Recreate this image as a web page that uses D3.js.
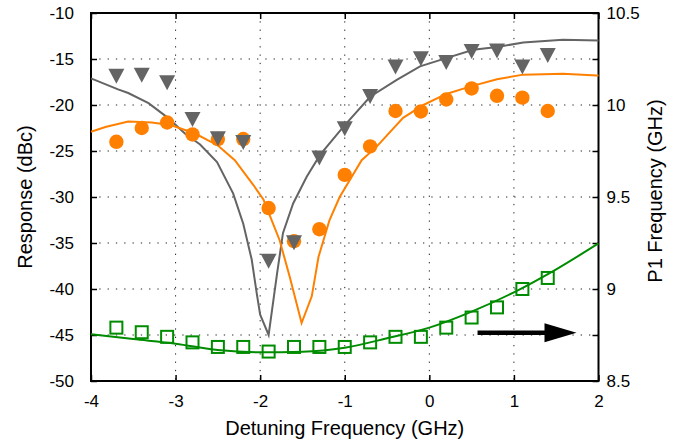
<!DOCTYPE html>
<html>
<head>
<meta charset="utf-8">
<script src="https://cdn.jsdelivr.net/npm/d3@7"></script>
<style>
  body { margin: 0; background: #fff; }
  svg { display: block; font-family: "Liberation Sans", Arial, sans-serif; }
</style>
</head>
<body>
<div id="chart"></div>
<script>
// measured points (detuning, GHz)
var detuning = [-3.7, -3.4, -3.1, -2.8, -2.5, -2.2, -1.9, -1.6, -1.3, -1.0, -0.7, -0.4, -0.1, 0.2, 0.5, 0.8, 1.1, 1.4];
var grayMeas = [-16.6, -16.5, -17.3, -21.3, -23.4, -23.8, -36.7, -34.7, -25.5, -22.3, -18.8, -15.6, -14.7, -15.1, -13.9, -13.85, -15.6, -14.35];
var orangeMeas = [-24.0, -22.5, -21.9, -23.2, -23.7, -23.7, -31.2, -34.8, -33.5, -27.6, -24.5, -20.65, -20.7, -19.4, -18.2, -19.0, -19.2, -20.65];
var p1Meas = [8.79, 8.765, 8.74, 8.71, 8.685, 8.685, 8.66, 8.685, 8.685, 8.685, 8.71, 8.74, 8.74, 8.79, 8.845, 8.9, 9.0, 9.06];

// simulated curves
var graySimX = [-4, -3.68, -3.56, -3.32, -3.09, -2.89, -2.71, -2.51, -2.32, -2.2, -2.1, -2.04, -2.0, -1.9, -1.8, -1.73, -1.61, -1.45, -1.29, -1.02, -0.7, -0.39, -0.11, 0.2, 0.52, 0.8, 1.11, 1.58, 2];
var graySimY = [-17.1, -18.3, -18.7, -19.8, -21.4, -23.1, -24.3, -26.2, -29.6, -32.9, -36.8, -40.5, -42.8, -45.0, -38.3, -33.9, -30.7, -27.8, -25.4, -22.4, -19.1, -17.3, -15.8, -14.9, -14.0, -13.7, -13.2, -12.9, -13.0];
var orangeSimX = [-4, -3.83, -3.56, -3.28, -3.05, -2.77, -2.5, -2.3, -2.08, -1.96, -1.77, -1.65, -1.51, -1.39, -1.31, -1.18, -1.06, -0.8, -0.62, -0.31, -0.07, 0.2, 0.48, 0.8, 1.11, 1.58, 1.98, 2];
var orangeSimY = [-22.9, -22.4, -21.8, -21.9, -22.2, -23.1, -24.4, -26.0, -28.7, -30.3, -34.7, -38.7, -43.7, -40.8, -36.5, -32.5, -30.0, -26.0, -24.5, -21.4, -20.0, -18.8, -18.0, -17.2, -16.7, -16.6, -16.8, -16.8];
var p1SimX = [-4, -3.5, -3, -2.5, -2, -1.5, -1, -0.5, 0, 0.5, 1, 1.5, 2];
var p1SimY = [8.754, 8.728, 8.703, 8.668, 8.656, 8.659, 8.681, 8.732, 8.79, 8.877, 8.982, 9.107, 9.248];

var xTicks = [-4, -3, -2, -1, 0, 1, 2];
var yTicks = [-50, -45, -40, -35, -30, -25, -20, -15, -10];
var y2Ticks = [8.5, 9, 9.5, 10, 10.5];
var y2Minor = [8.75, 9.25, 9.75, 10.25];

var arrowX = [0.57, 1.74];
var arrowY = -44.75;

var width = 681, height = 445;
var margin = {top: 13, right: 82.5, bottom: 64, left: 91};
var innerW = width - margin.left - margin.right;
var innerH = height - margin.top - margin.bottom;

var colGray = "#646464", colOrange = "#ff8000", colGreen = "#008c00";

var svg = d3.select("#chart").append("svg")
    .attr("width", width)
    .attr("height", height);

var g = svg.append("g")
    .attr("transform", "translate(" + margin.left + "," + margin.top + ")");

var x = d3.scaleLinear().domain([-4, 2]).range([0, innerW]);
var y = d3.scaleLinear().domain([-50, -10]).range([innerH, 0]);
var y2 = d3.scaleLinear().domain([8.5, 10.5]).range([innerH, 0]);

// plain hyphen labels like the original
var plain = d => String(d);

// dotted grid
g.selectAll(".gx").data(xTicks.slice(1, -1)).enter().append("line")
    .attr("x1", d => x(d)).attr("x2", d => x(d))
    .attr("y1", 0).attr("y2", innerH)
    .attr("stroke", "#222").attr("stroke-width", 1)
    .attr("stroke-dasharray", "1.3,7");
g.selectAll(".gy").data(yTicks.slice(1, -1)).enter().append("line")
    .attr("x1", 0).attr("x2", innerW)
    .attr("y1", d => y(d)).attr("y2", d => y(d))
    .attr("stroke", "#222").attr("stroke-width", 1)
    .attr("stroke-dasharray", "1.3,7");

// axes
var tickFont = "17px";
var xAxis = g.append("g").attr("transform", "translate(0," + innerH + ")")
    .call(d3.axisBottom(x).tickValues(xTicks).tickSizeInner(-6).tickSizeOuter(0).tickPadding(14).tickFormat(plain));
var xTop = g.append("g")
    .call(d3.axisTop(x).tickValues(xTicks).tickSizeInner(-6).tickSizeOuter(0).tickFormat(""));
var yAxis = g.append("g")
    .call(d3.axisLeft(y).tickValues(yTicks).tickSizeInner(-6).tickSizeOuter(0).tickPadding(17).tickFormat(plain));
var y2Axis = g.append("g").attr("transform", "translate(" + innerW + ",0)")
    .call(d3.axisRight(y2).tickValues(y2Ticks.concat(y2Minor)).tickSizeInner(-6).tickSizeOuter(0).tickPadding(8)
        .tickFormat(d => y2Ticks.indexOf(d) >= 0 ? plain(d) : ""));

[xAxis, xTop, yAxis, y2Axis].forEach(function (a) {
    a.selectAll("text").attr("font-size", tickFont).attr("fill", "#000")
        .attr("font-family", "'Liberation Sans', Arial, sans-serif");
    a.selectAll(".tick line").attr("stroke", "#000").attr("stroke-width", 1.5);
    a.select(".domain").remove();
});

// frame
g.append("rect")
    .attr("x", 0).attr("y", 0)
    .attr("width", innerW).attr("height", innerH)
    .attr("fill", "none").attr("stroke", "#000").attr("stroke-width", 2);

// simulated curves
var lineGen = d3.line().x(d => x(d[0])).y(d => y(d[1]));
var lineGen2 = d3.line().x(d => x(d[0])).y(d => y2(d[1])).curve(d3.curveMonotoneX);

g.append("path")
    .datum(graySimX.map((v, i) => [v, graySimY[i]]))
    .attr("d", lineGen).attr("fill", "none")
    .attr("stroke", colGray).attr("stroke-width", 2);
g.append("path")
    .datum(orangeSimX.map((v, i) => [v, orangeSimY[i]]))
    .attr("d", lineGen).attr("fill", "none")
    .attr("stroke", colOrange).attr("stroke-width", 2);
g.append("path")
    .datum(p1SimX.map((v, i) => [v, p1SimY[i]]))
    .attr("d", lineGen2).attr("fill", "none")
    .attr("stroke", colGreen).attr("stroke-width", 2);

// measured markers
g.selectAll(".sq").data(detuning).enter().append("rect")
    .attr("x", d => x(d) - 6).attr("y", (d, i) => y2(p1Meas[i]) - 6)
    .attr("width", 12).attr("height", 12)
    .attr("fill", "none").attr("stroke", colGreen).attr("stroke-width", 2);

g.selectAll(".dot").data(detuning).enter().append("circle")
    .attr("cx", d => x(d)).attr("cy", (d, i) => y(orangeMeas[i]))
    .attr("r", 7.2).attr("fill", colOrange);

var triH = 15, triW = 16;
g.selectAll(".tri").data(detuning).enter().append("path")
    .attr("transform", (d, i) => "translate(" + x(d) + "," + y(grayMeas[i]) + ")")
    .attr("d", "M" + (-triW / 2) + "," + (-triH / 3) + "L" + (triW / 2) + "," + (-triH / 3) + "L0," + (2 * triH / 3) + "Z")
    .attr("fill", colGray);

// arrow pointing to right axis
var ax0 = x(arrowX[0]), ax1 = x(arrowX[1]), ay = y(arrowY);
g.append("line")
    .attr("x1", ax0).attr("x2", ax1 - 28)
    .attr("y1", ay).attr("y2", ay)
    .attr("stroke", "#000").attr("stroke-width", 4.5);
g.append("path")
    .attr("d", "M" + (ax1 - 32) + "," + (ay - 9.5) + "L" + ax1 + "," + ay + "L" + (ax1 - 32) + "," + (ay + 9.5) + "Z")
    .attr("fill", "#000");

// axis titles
svg.append("text")
    .attr("x", margin.left + innerW / 2).attr("y", 435)
    .attr("text-anchor", "middle").attr("font-size", "20px")
    .text("Detuning Frequency (GHz)");
svg.append("text")
    .attr("transform", "translate(32," + (margin.top + innerH / 2) + ") rotate(-90)")
    .attr("text-anchor", "middle").attr("font-size", "20px")
    .text("Response (dBc)");
svg.append("text")
    .attr("transform", "translate(662,191) rotate(-90)")
    .attr("text-anchor", "middle").attr("font-size", "20px")
    .text("P1 Frequency (GHz)");
</script>
</body>
</html>
